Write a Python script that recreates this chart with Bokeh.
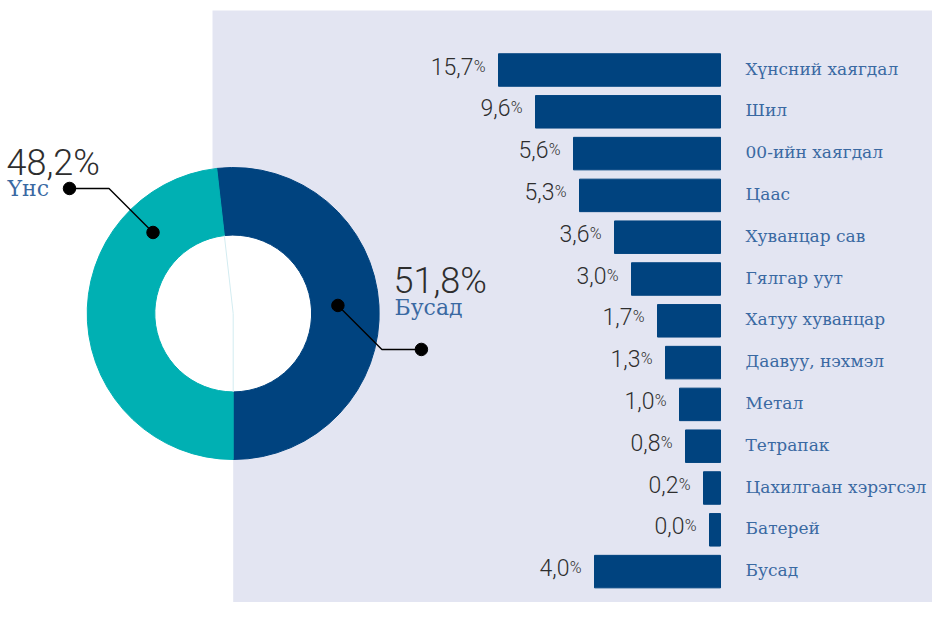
import math
from bokeh.plotting import figure
from bokeh.models import Range1d, ColumnDataSource
from bokeh.core.properties import value
from bokeh.embed import file_html
from bokeh.resources import INLINE

# ---------------- data ----------------
categories = ["Хүнсний хаягдал", "Шил", "00-ийн хаягдал", "Цаас", "Хуванцар сав",
              "Гялгар уут", "Хатуу хуванцар", "Даавуу, нэхмэл", "Метал", "Тетрапак",
              "Цахилгаан хэрэгсэл", "Батерей", "Бусад"]
shares = [15.7, 9.6, 5.6, 5.3, 3.6, 3.0, 1.7, 1.3, 1.0, 0.8, 0.2, 0.0, 4.0]
# bar lengths as drawn in the original (the designer did not draw them to scale)
bar_length = [222, 185, 147, 141, 106, 89, 63, 55, 41, 35, 17, 11, 126]

donut_names = ["Бусад", "Үнс"]
donut_shares = [51.8, 48.2]

# ---------------- style / layout ----------------
W, H = 932, 602
DARK = "#00437f"
TEAL = "#00b0b3"
LAV = "#e3e5f2"
BLUE_TXT = "#3a69a2"
NUM_TXT = "#2e2e2e"
NUM_FONT = value("Roboto Light")
LBL_FONT = value("DejaVu Serif")
TXT_SHIFT = 10  # renderer places alphabetic baseline lower than requested


def Y(sy):
    # pixel row (from top) -> data y
    return H - sy


def YT(sy):
    # text baseline row -> data y
    return H - (sy - TXT_SHIFT)


p = figure(width=W, height=H, output_backend="svg", toolbar_location=None,
           x_range=Range1d(0, W), y_range=Range1d(0, H),
           min_border=0, outline_line_color=None)
p.axis.visible = False
p.grid.visible = False
p.background_fill_color = "white"
p.border_fill_color = "white"

# background panel
CX, CY = 232.7, 313.0
p.patch(x=[212, W + 2, W + 2, CX, CX, 212],
        y=[Y(10), Y(10), Y(H + 2), Y(H + 2), Y(CY), Y(CY)],
        fill_color=LAV, line_color=None)

# ---------------- donut ----------------
R_OUT, R_IN = 146.0, 78.4
cum = [0.0]
for s in donut_shares:
    cum.append(cum[-1] + s)
total = cum[-1]
starts = [-math.pi / 2 + 2 * math.pi * c / total for c in cum[:-1]]
ends = [-math.pi / 2 + 2 * math.pi * c / total for c in cum[1:]]
# white hole
p.circle(x=[CX], y=[Y(CY)], radius=R_OUT - 1, fill_color="white", line_color=None)
dsrc = ColumnDataSource(dict(start=starts, end=ends, color=[DARK, TEAL]))
p.annular_wedge(x=CX, y=Y(CY), inner_radius=R_IN, outer_radius=R_OUT,
                start_angle="start", end_angle="end", color="color",
                direction="anticlock", source=dsrc)
# faint seam visible through the hole
a1 = ends[0]
p.line(x=[CX + R_IN * math.cos(a1), CX, CX],
       y=[Y(CY) + R_IN * math.sin(a1), Y(CY), Y(CY) - R_IN],
       line_color="#d3ecf1", line_width=1)

# connectors (anchor on ring, 45-degree leg, horizontal leg)
anchors = [(math.radians(4.4), 105.0, 1), (math.radians(134.7), 114.0, -1)]
leg = 44.0
hor = 39.5
for (ang, rr, d) in anchors:
    ax = CX + rr * math.cos(ang)
    ay = Y(CY) + rr * math.sin(ang)
    ex = ax + d * leg
    ey = ay - d * leg
    fx = ex + d * hor
    p.line(x=[ax, ex, fx], y=[ay, ey, ey], line_color="black", line_width=1.4)
    p.scatter(x=[ax, fx], y=[ay, ey], size=12.5, color="black")

donut_pct = [("%.1f" % v).replace(".", ",") + "%" for v in donut_shares]
# Бусад (right of donut)
p.text(x=[393], y=[YT(290)], text=[donut_pct[0]], text_font=NUM_FONT,
       text_font_size="36px", text_color=NUM_TXT, text_baseline="alphabetic")
p.text(x=[394], y=[YT(316.5)], text=[donut_names[0]], text_font=LBL_FONT,
       text_font_size="22px", text_color=BLUE_TXT, text_baseline="alphabetic")
# Үнс (left of donut)
p.text(x=[6], y=[YT(172)], text=[donut_pct[1]], text_font=NUM_FONT,
       text_font_size="36px", text_color=NUM_TXT, text_baseline="alphabetic")
p.text(x=[7], y=[YT(197.5)], text=[donut_names[1]], text_font=LBL_FONT,
       text_font_size="22px", text_color=BLUE_TXT, text_baseline="alphabetic")

# ---------------- bars ----------------
BAR_RIGHT = 720.0
TOP0 = 69.5
PITCH = 41.8
BAR_H = 32.5
n = len(categories)
rows = [TOP0 + PITCH * i for i in range(n)]
left = [BAR_RIGHT - L for L in bar_length]
bsrc = ColumnDataSource(dict(
    y=[Y(r) for r in rows], left=left, right=[BAR_RIGHT] * n, cat=categories,
    num=[("%.1f" % v).replace(".", ",") for v in shares],
    pct=["%"] * n,
    num_x=[l - 13 - 12 for l in left], pct_x=[l - 13 for l in left],
    num_y=[YT(r + 6) for r in rows], lbl_y=[YT(r + 8.5) for r in rows],
    lbl_x=[745] * n))
p.hbar(y="y", left="left", right="right", height=BAR_H, color=DARK, source=bsrc)
p.text(x="num_x", y="num_y", text="num", source=bsrc, text_font=NUM_FONT,
       text_font_size="23px", text_color=NUM_TXT, text_align="right",
       text_baseline="alphabetic")
p.text(x="pct_x", y="num_y", text="pct", source=bsrc, text_font=NUM_FONT,
       text_font_size="16px", text_color=NUM_TXT, text_align="right",
       text_baseline="alphabetic")
p.text(x="lbl_x", y="lbl_y", text="cat", source=bsrc, text_font=LBL_FONT,
       text_font_size="17px", text_color=BLUE_TXT, text_align="left",
       text_baseline="alphabetic")

open("out.html", "w").write(file_html(p, INLINE))
